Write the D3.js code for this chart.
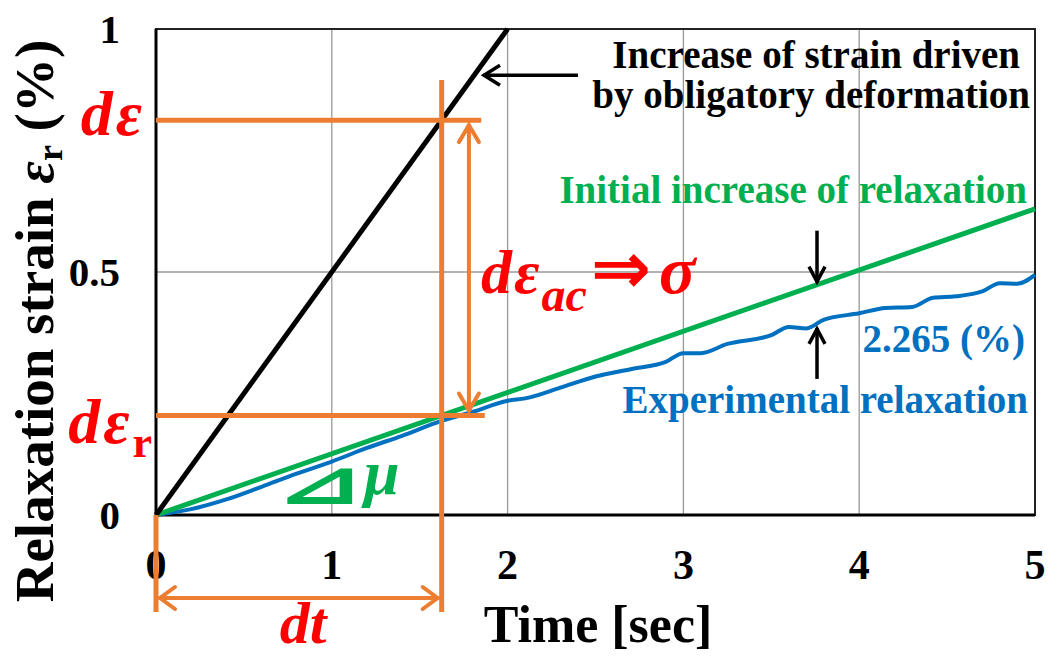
<!DOCTYPE html>
<html><head><meta charset="utf-8">
<script src="https://cdn.jsdelivr.net/npm/d3@7"></script>
<style>body{margin:0;background:#fff}svg{display:block}text{font-family:"Liberation Serif","Times New Roman",serif;font-weight:bold}</style>
</head><body>
<svg id="c" width="1053" height="657"></svg>
<script>
const xTicks = [0,1,2,3,4,5];
const yTicks = [0,0.5,1];
const yTickLabels = ["0","0.5","1"];
const drivenT = [0,2];
const drivenV = [0,1];
const initT = [0,5];
const initV = [0,0.63];
const expT = [0,0.2,0.4,0.6,0.8,1.0,1.2,1.4,1.62,1.8,2.0,2.1,2.3,2.5,2.7,2.9,3.0,3.1,3.25,3.5,3.6,3.7,3.8,4.0,4.15,4.3,4.42,4.55,4.7,4.8,4.9,5.0];
const expV = [0,0.012,0.032,0.058,0.085,0.11,0.138,0.163,0.193,0.212,0.235,0.24,0.262,0.285,0.300,0.315,0.333,0.333,0.352,0.370,0.387,0.384,0.402,0.415,0.426,0.428,0.447,0.450,0.460,0.477,0.476,0.494];
const dtVal = 1.625;

const svg = d3.select("#c");
const x = d3.scaleLinear().domain([0,5]).range([156,1035]);
const y = d3.scaleLinear().domain([0,1]).range([515,29]);
const ORANGE="#ED7D31", GREEN="#00B050", BLUE="#0070C0", RED="#FF0000";

// grid
svg.append("g").selectAll("line").data(xTicks.slice(1,-1)).join("line")
 .attr("x1",d=>x(d)).attr("x2",d=>x(d)).attr("y1",y(0)).attr("y2",y(1))
 .attr("stroke","#999").attr("stroke-width",1.3);
svg.append("g").selectAll("line").data([0.5]).join("line")
 .attr("x1",x(0)).attr("x2",x(5)).attr("y1",d=>y(d)).attr("y2",d=>y(d))
 .attr("stroke","#999").attr("stroke-width",1.3);
// frame
svg.append("rect").attr("x",x(0)).attr("y",y(1)).attr("width",x(5)-x(0)).attr("height",y(0)-y(1))
 .attr("fill","none").attr("stroke","#222").attr("stroke-width",2);
svg.append("line").attr("x1",x(0)).attr("x2",x(0)).attr("y1",y(0)).attr("y2",y(1)).attr("stroke","#000").attr("stroke-width",3);
svg.append("line").attr("x1",x(0)).attr("x2",x(5)).attr("y1",y(0)).attr("y2",y(0)).attr("stroke","#000").attr("stroke-width",3);

// tick labels
svg.append("g").selectAll("text").data(xTicks).join("text")
 .attr("x",d=>x(d)).attr("y",y(0)+64).attr("text-anchor","middle")
 .attr("font-size",42).text(d=>d);
svg.append("g").selectAll("text").data(yTicks).join("text")
 .attr("x",x(0)-36).attr("y",d=>y(d)+14).attr("text-anchor","end")
 .attr("font-size",41).text((d,i)=>yTickLabels[i]);

// axis titles
svg.append("text").attr("x",598).attr("y",642).attr("text-anchor","middle").attr("font-size",52).text("Time [sec]");
const yt = svg.append("text").attr("transform","translate(53,321) rotate(-90)").attr("text-anchor","middle").attr("font-size",55);
yt.append("tspan").text("Relaxation strain ");
yt.append("tspan").attr("font-style","italic").text("ε");
yt.append("tspan").attr("font-size",36).attr("dy",9).text("r");
yt.append("tspan").attr("dy",-9).text(" (%)");

// lines
const line = d3.line().x(d=>x(d[0])).y(d=>y(d[1]));
svg.append("path").datum(expT.map((t,i)=>[t,expV[i]])).attr("d",line.curve(d3.curveMonotoneX))
 .attr("fill","none").attr("stroke",BLUE).attr("stroke-width",4);
const line2 = d3.line().x(d=>x(d[0])).y(d=>y(d[1]));
svg.append("path").datum(initT.map((t,i)=>[t,initV[i]])).attr("d",line2)
 .attr("fill","none").attr("stroke",GREEN).attr("stroke-width",5);
svg.append("path").datum(drivenT.map((t,i)=>[t,drivenV[i]])).attr("d",line2)
 .attr("fill","none").attr("stroke","#000").attr("stroke-width",5);

// orange construction
const dEps = drivenV[1]/drivenT[1]*dtVal;
const dEpsR = initV[1]/initT[1]*dtVal;
const o = svg.append("g").attr("stroke",ORANGE).attr("stroke-width",5).attr("fill","none");
o.append("line").attr("x1",x(dtVal)).attr("x2",x(dtVal)).attr("y1",y(0.895)).attr("y2",y(0)+97);
o.append("line").attr("x1",x(0)).attr("x2",x(0)).attr("y1",y(0)).attr("y2",y(0)+97);
o.append("line").attr("x1",x(0)).attr("x2",x(1.85)).attr("y1",y(dEps)).attr("y2",y(dEps));
o.append("line").attr("x1",x(0)).attr("x2",x(1.87)).attr("y1",y(dEpsR)).attr("y2",y(dEpsR));
// vertical double arrow
const ax = x(1.78);
const a = svg.append("g").attr("stroke",ORANGE).attr("stroke-width",4).attr("fill","none").attr("stroke-linecap","round");
a.append("line").attr("x1",ax).attr("x2",ax).attr("y1",y(dEps)+5).attr("y2",y(dEpsR)-5);
a.append("polyline").attr("points",`${ax-10},${y(dEps)+22} ${ax},${y(dEps)+5} ${ax+10},${y(dEps)+22}`);
a.append("polyline").attr("points",`${ax-10},${y(dEpsR)-22} ${ax},${y(dEpsR)-5} ${ax+10},${y(dEpsR)-22}`);
// horizontal double arrow
const ay = y(0)+83;
a.append("line").attr("x1",x(0)+4).attr("x2",x(dtVal)-4).attr("y1",ay).attr("y2",ay);
a.append("polyline").attr("points",`${x(0)+19},${ay-11} ${x(0)+4},${ay} ${x(0)+19},${ay+11}`);
a.append("polyline").attr("points",`${x(dtVal)-19},${ay-11} ${x(dtVal)-4},${ay} ${x(dtVal)-19},${ay+11}`);

// black annotation arrows
const b = svg.append("g").attr("stroke","#000").attr("stroke-width",3.5).attr("fill","none");
const bt = 1.86, bv = 0.905;
b.append("line").attr("x1",x(bt)).attr("x2",x(2.4)).attr("y1",y(bv)).attr("y2",y(bv));
b.append("polyline").attr("points",`${x(bt)+17},${y(bv)-10} ${x(bt)+1},${y(bv)} ${x(bt)+17},${y(bv)+10}`);
const dx = x(3.76);
b.append("line").attr("x1",dx).attr("x2",dx).attr("y1",y(0.585)).attr("y2",y(0.478));
b.append("polyline").attr("points",`${dx-8},${y(0.478)-16} ${dx},${y(0.478)-1} ${dx+8},${y(0.478)-16}`);
b.append("line").attr("x1",dx).attr("x2",dx).attr("y1",y(0.28)).attr("y2",y(0.385));
b.append("polyline").attr("points",`${dx-8},${y(0.385)+16} ${dx},${y(0.385)+1} ${dx+8},${y(0.385)+16}`);

// annotation texts
svg.append("text").attr("x",1020).attr("y",68).attr("text-anchor","end").attr("font-size",39).text("Increase of strain driven");
svg.append("text").attr("x",1030).attr("y",108).attr("text-anchor","end").attr("font-size",39).text("by obligatory deformation");
svg.append("text").attr("x",1027).attr("y",203).attr("text-anchor","end").attr("font-size",39).attr("fill",GREEN).text("Initial increase of relaxation");
svg.append("text").attr("x",1025).attr("y",352).attr("text-anchor","end").attr("font-size",39).attr("fill",BLUE).text("2.265 (%)");
svg.append("text").attr("x",1028).attr("y",413).attr("text-anchor","end").attr("font-size",39).attr("fill",BLUE).text("Experimental relaxation");

// red labels
svg.append("text").attr("x",145).attr("y",135).attr("text-anchor","end").attr("font-size",64).attr("letter-spacing",3).attr("fill",RED).attr("font-style","italic").text("dε");
const r2 = svg.append("text").attr("x",152).attr("y",443).attr("text-anchor","end").attr("font-size",64).attr("fill",RED);
r2.append("tspan").attr("font-style","italic").attr("letter-spacing",3).text("dε");
r2.append("tspan").attr("font-size",44).attr("dy",14).text("r");
const r3 = svg.append("text").attr("x",481).attr("y",293).attr("font-size",62).attr("fill",RED);
r3.append("tspan").attr("font-style","italic").attr("letter-spacing",2).text("dε");
r3.append("tspan").attr("font-style","italic").attr("font-size",48).attr("dy",18).text("ac");
r3.append("tspan").attr("dy",-18).attr("dx",4).attr("font-family","DejaVu Sans").attr("font-size",72).text("⇒");
r3.append("tspan").attr("font-style","italic").attr("font-size",68).attr("dx",8).text("σ");
svg.append("text").attr("x",303).attr("y",643).attr("text-anchor","middle").attr("font-size",60).attr("fill",RED).attr("font-style","italic").text("dt");
svg.append("text").attr("transform","translate(274,503) scale(1.82,1)").attr("font-size",60).attr("fill",GREEN)
 .attr("font-family","Noto Sans CJK JP").attr("font-weight","bold").text("⊿");
svg.append("text").attr("x",364).attr("y",494).attr("font-size",64).attr("fill",GREEN).attr("font-style","italic").text("μ");
</script>
</body></html>
